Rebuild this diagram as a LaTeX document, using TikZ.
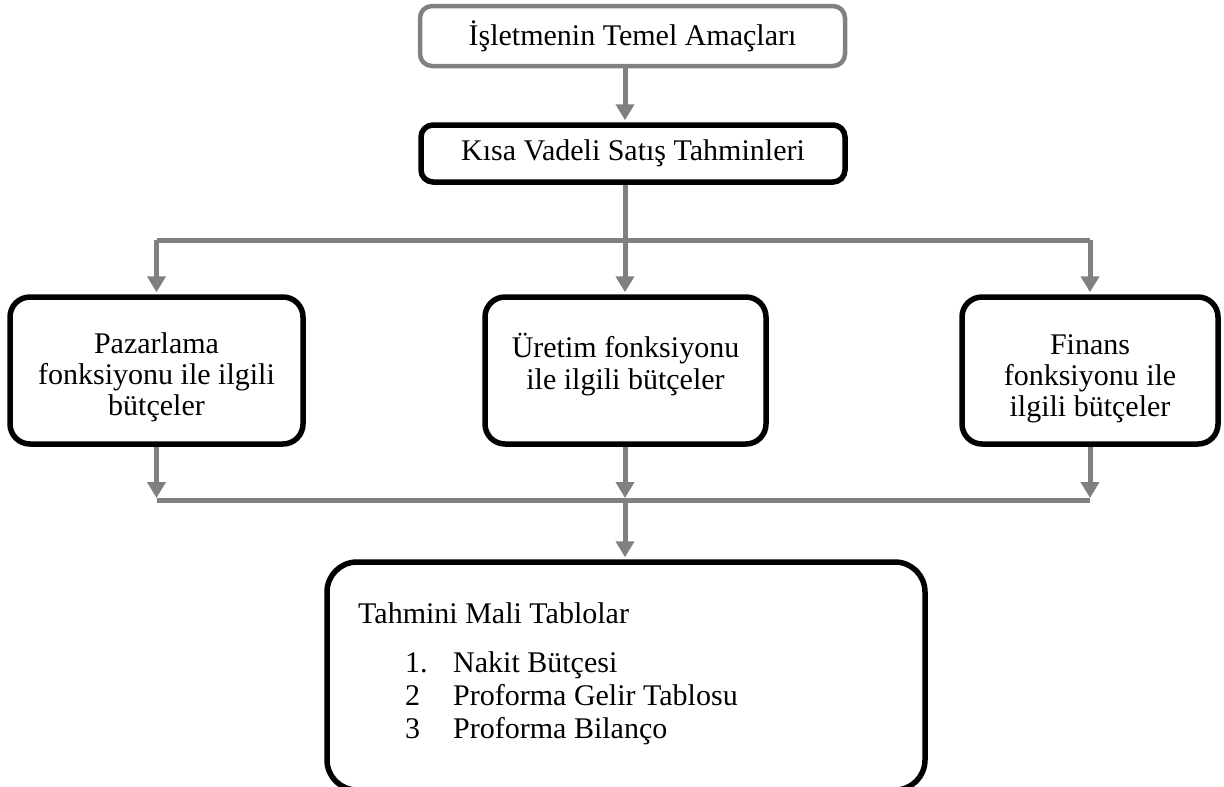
\documentclass[tikz,border=0pt]{standalone}
\usepackage{fontspec}
\setmainfont{Liberation Serif}
\usetikzlibrary{arrows.meta}
\definecolor{okgri}{HTML}{808080}
\tikzset{
  kutu/.style={draw=black, line width=5.5pt, rounded corners=20pt, fill=white, align=center, inner sep=0pt},
  ok/.style={draw=okgri, line width=5pt, -{Triangle[width=18pt,length=16pt]}, shorten >=2pt},
  hat/.style={draw=okgri, line width=5pt},
  yazi/.style={anchor=base west, inner sep=0pt},
}

\begin{document}
\begin{tikzpicture}[x=1pt,y=-1pt,font=\fontsize{30}{31}\selectfont]
\useasboundingbox (0,0) rectangle (1224,787);
% kutular
\node[kutu, draw=okgri, line width=4.5pt, rounded corners=12pt, minimum width=425pt, minimum height=60pt] (amac) at (632.5,36) {İşletmenin Temel Amaçları};
\node[kutu, rounded corners=12pt, minimum width=424pt, minimum height=57pt] (satis) at (633,153.5) {Kısa Vadeli Satış Tahminleri};
\node[kutu, minimum width=293pt, minimum height=147pt] (pazar) at (156.5,370.5) {\rule{0pt}{34.5pt}Pazarlama\\fonksiyonu ile ilgili\\bütçeler};
\node[kutu, minimum width=281pt, minimum height=147pt] (uretim) at (625.5,370.5) {Üretim fonksiyonu\\[1pt]ile ilgili bütçeler\rule[-19pt]{0pt}{0pt}};
\node[kutu, minimum width=256pt, minimum height=147pt] (finans) at (1090,370.5) {\rule{0pt}{36.5pt}Finans\\fonksiyonu ile\\ilgili bütçeler};
\node[kutu, rounded corners=30pt, minimum width=598pt, minimum height=228pt] (tablo) at (626,676) {};
% tablo yazilari
\node[yazi] (baslik) at (358,623) {Tahmini Mali Tablolar};
\foreach \n/\t [count=\i] in {1./Nakit Bütçesi, 2/Proforma Gelir Tablosu, 3/Proforma Bilanço} {
  \node[yazi] (no\i) at (405,639+33*\i) {\n};
  \node[yazi] (kalem\i) at (453,639+33*\i) {\t};
}
% oklar
\coordinate (orta) at (625,0);
\coordinate (dal) at (625,240);
\coordinate (topla) at (625,500);
\draw[ok] (amac.south -| orta) -- (satis.north -| orta);
\draw[hat] (satis.south -| orta) -- (dal);
\draw[hat] (dal -| pazar) -- (dal -| finans);
\draw[ok] (dal -| pazar) -- (pazar.north);
\draw[ok] (dal) -- (uretim.north -| orta);
\draw[ok] (dal -| finans) -- (finans.north);
\draw[hat] (topla -| pazar) -- (topla -| finans);
\draw[ok] (pazar.south) -- (topla -| pazar);
\draw[ok] (uretim.south -| orta) -- (topla);
\draw[ok] (finans.south) -- (topla -| finans);
\draw[ok] (topla) -- (tablo.north -| orta);
\end{tikzpicture}
\end{document}
